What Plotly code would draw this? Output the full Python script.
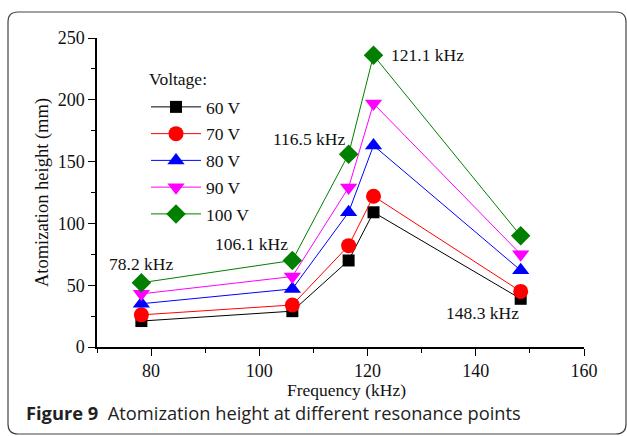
import plotly.graph_objects as go

freq = [78.2, 106.1, 116.5, 121.1, 148.3]
h60 = [21, 29, 70, 109, 39]
h70 = [26, 34, 82, 122, 45]
h80 = [35, 47, 109, 163, 62]
h90 = [43, 57, 129, 197, 75]
h100 = [52, 70, 156, 236, 90]
series_names = ["60 V", "70 V", "80 V", "90 V", "100 V"]
colors = ["#000000", "#ff0000", "#0000ff", "#ff00ff", "#007f00"]
symbols = ["square", "circle", "triangle-up", "triangle-down", "diamond"]
msizes = [12, 15, 15, 15, 15]
label_text = ["78.2 kHz", "106.1 kHz", "116.5 kHz", "121.1 kHz", "148.3 kHz"]

W, H = 627, 436
L, R, T, B = 97, 43, 38, 89
pw, ph = W - L - R, H - T - B

def px(x):
    return (x - L) / pw

def py(y):
    return (H - B - y) / ph

fig = go.Figure()
for name, ys, c, s, ms in zip(series_names, [h60, h70, h80, h90, h100], colors, symbols, msizes):
    fig.add_trace(go.Scatter(x=freq, y=ys, name=name, mode="lines+markers", legendgroup=name,
                             line=dict(color=c, width=1),
                             marker=dict(symbol=s, size=ms, color=c, line=dict(width=0))))

font = "Liberation Serif, Times New Roman, serif"
# frequency labels (anchored to the 100 V / 60 V points)
lab_pos = [(h100[0], 0, 19), (h100[1], -41, 16), (h100[2], -40, 15),
           (h100[3], 54, 0), (h60[4], -38, -14)]
for f, t, (yy, dx, dy) in zip(freq, label_text, lab_pos):
    fig.add_annotation(x=f, y=yy, text=t, showarrow=False, xshift=dx, yshift=dy,
                       font=dict(family=font, size=17.5, color="#111"))

# border
x0, x1, y0, y1, r = px(8), px(626), py(434), py(12), 10
rx, ry = r / pw, r / ph
path = (f"M {x0+rx},{y1} L {x1-rx},{y1} Q {x1},{y1} {x1},{y1-ry} L {x1},{y0+ry} Q {x1},{y0} {x1-rx},{y0} "
        f"L {x0+rx},{y0} Q {x0},{y0} {x0},{y0+ry} L {x0},{y1-ry} Q {x0},{y1} {x0+rx},{y1} Z")
fig.add_shape(type="path", path=path, xref="paper", yref="paper",
              line=dict(color="#444", width=1.2), fillcolor="rgba(0,0,0,0)")

fig.add_annotation(x=px(24), y=py(413), xref="paper", yref="paper", xanchor="left", yanchor="middle",
                   showarrow=False,
                   text="<b>Figure 9</b>  Atomization height at different resonance points",
                   font=dict(family="Open Sans, Noto Sans, sans-serif", size=18.3, color="#222"))

# legend title
fig.add_annotation(x=px(147), y=py(79), xref="paper", yref="paper", xanchor="left", yanchor="middle",
                   showarrow=False, text="Voltage:",
                   font=dict(family=font, size=17.5, color="#111"))
# x axis title
fig.add_annotation(x=px(346), y=py(390), xref="paper", yref="paper", xanchor="center", yanchor="middle",
                   showarrow=False, text="Frequency (kHz)",
                   font=dict(family=font, size=17.5, color="#111"))

axis_common = dict(showline=True, linecolor="#000", linewidth=1.5, ticks="outside", ticklen=7,
                   tickwidth=1.3, tickcolor="#000", showgrid=False, zeroline=False,
                   tickfont=dict(family=font, size=18, color="#111"))
fig.update_xaxes(range=[70, 160], dtick=20, tick0=80,
                 minor=dict(dtick=10, tick0=70, ticks="outside", ticklen=4, tickcolor="#000", tickwidth=1.3),
                 **axis_common)
fig.update_yaxes(range=[0, 250], dtick=50,
                 minor=dict(dtick=25, ticks="outside", ticklen=4, tickcolor="#000", tickwidth=1.3),
                 title=dict(text="Atomization height (mm)", font=dict(family=font, size=18.5, color="#111"), standoff=4),
                 **axis_common)

fig.update_layout(
    width=W, height=H, margin=dict(l=L, r=R, t=T, b=B),
    paper_bgcolor="white", plot_bgcolor="white",
    legend=dict(x=px(146), y=py(89), xanchor="left", yanchor="top", bgcolor="rgba(0,0,0,0)",
                font=dict(family=font, size=17.5, color="#111"), tracegroupgap=1,
                itemwidth=50),
    showlegend=True,
)
fig.write_html("out.html")
